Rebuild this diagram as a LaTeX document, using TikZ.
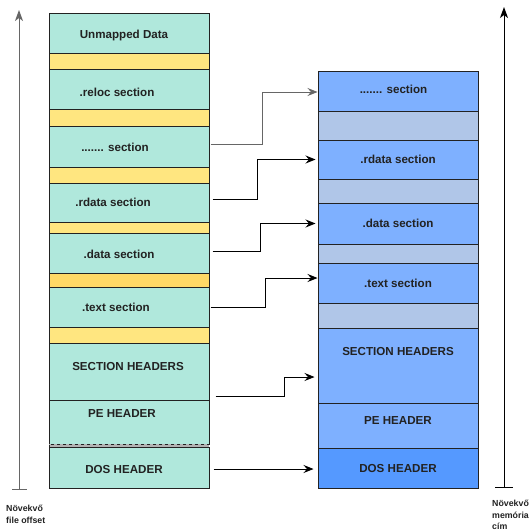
\documentclass[tikz,border=0pt]{standalone}
\usepackage{fontspec}
\setmainfont{Liberation Sans}
\usetikzlibrary{arrows.meta, positioning}
\definecolor{file-sec}{HTML}{B0E8DC}
\definecolor{file-pad}{HTML}{FFE680}
\definecolor{file-pad2}{HTML}{FFD966}
\definecolor{mem-sec}{HTML}{7EB0FF}
\definecolor{mem-pad}{HTML}{B0C6E8}
\definecolor{mem-dos}{HTML}{5599FF}
\definecolor{edge}{HTML}{222222}
\definecolor{axis-gray}{HTML}{666666}
\tikzset{
  blk/.style={
    draw=edge, line width=1pt, minimum width=160pt, inner sep=0pt
  },
  fsec/.style={blk, fill=file-sec},
  fpad/.style={blk, fill=file-pad},
  msec/.style={blk, fill=mem-sec},
  mpad/.style={blk, fill=mem-pad},
  txt/.style={font=\fontsize{11.6}{13}\selectfont\bfseries, text=edge, inner sep=0pt},
  link/.style={line width=0.9pt, -{Stealth[length=10pt, width=8pt, inset=3.5pt]}},
  axis/.style={line width=1pt, -{Stealth[length=11pt, width=8pt, inset=3pt]}},
  axlbl/.style={font=\fontsize{8.8}{11.5}\selectfont\bfseries, text=edge,
    align=left, anchor=north west, inner sep=0pt}
}

\begin{document}
\begin{tikzpicture}[x=1pt, y=-1pt]
  \useasboundingbox (0,0) rectangle (529,532);

  % ---- File image (on disk) -------------------------------------------------
  \node[fsec, minimum height=40pt, label={[txt, xshift=-5pt, yshift=-2pt]center:Unmapped Data}] (f-unmap) at (129,34) {};
  \node[fpad, minimum height=16pt] (f-pad1) at (129,62) {};
  \node[fsec, minimum height=40pt, label={[txt, xshift=-12pt, yshift=-2.5pt]center:.reloc section}] (f-reloc) at (129,90) {};
  \node[fpad, minimum height=16pt] (f-pad2) at (129,118) {};
  \node[fsec, minimum height=41pt, label={[txt, xshift=-14pt, yshift=-1pt]center:....... section}] (f-dots) at (129,146.5) {};
  \node[fpad, minimum height=16pt] (f-pad3) at (129,175) {};
  \node[fsec, minimum height=39pt, label={[txt, xshift=-16pt]center:.rdata section}] (f-rdata) at (129,202.5) {};
  \node[fpad, minimum height=11pt] (f-pad4) at (129,227.5) {};
  \node[fsec, minimum height=40pt, label={[txt, xshift=-10pt, yshift=-1pt]center:.data section}] (f-data) at (129,253) {};
  \node[fpad, fill=file-pad2, minimum height=14pt] (f-pad5) at (129,280) {};
  \node[fsec, minimum height=40pt, label={[txt, xshift=-13pt, yshift=-0.5pt]center:.text section}] (f-text) at (129,307) {};
  \node[fpad, minimum height=16pt] (f-pad6) at (129,335) {};
  \node[fsec, minimum height=57pt, label={[txt, xshift=-1pt, yshift=5pt]center:SECTION HEADERS}] (f-shdr) at (129,371.5) {};
  \node[fsec, minimum height=44pt, label={[txt, xshift=-7pt, yshift=8pt]center:PE HEADER}] (f-pe) at (129,422) {};
  \node[blk, fill=black!30, dashed, minimum height=3pt] (f-gap) at (129,445.5) {};
  \node[fsec, minimum height=41pt, label={[txt, xshift=-5pt, yshift=-2pt]center:DOS HEADER}] (f-dos) at (129,467.5) {};

  % ---- Memory image (mapped) ------------------------------------------------
  \node[msec, minimum height=40pt, label={[txt, xshift=-4.5pt, yshift=3pt]center:....... section}] (m-dots) at (398,92) {};
  \node[mpad, minimum height=28pt] (m-pad1) at (398,126) {};
  \node[msec, minimum height=39pt, label={[txt]center:.rdata section}] (m-rdata) at (398,159.5) {};
  \node[mpad, minimum height=24pt] (m-pad2) at (398,191) {};
  \node[msec, minimum height=41pt, label={[txt]center:.data section}] (m-data) at (398,223.5) {};
  \node[mpad, minimum height=19pt] (m-pad3) at (398,253.5) {};
  \node[msec, minimum height=40pt, label={[txt]center:.text section}] (m-text) at (398,283) {};
  \node[mpad, minimum height=25pt] (m-pad4) at (398,315.5) {};
  \node[msec, minimum height=75pt, label={[txt, yshift=13.5pt]center:SECTION HEADERS}] (m-shdr) at (398,365.5) {};
  \node[msec, minimum height=45pt, label={[txt, yshift=4.5pt]center:PE HEADER}] (m-pe) at (398,425.5) {};
  \node[blk, fill=mem-dos, minimum height=40pt, label={[txt, yshift=-1pt]center:DOS HEADER}] (m-dos) at (398,468) {};

  % ---- Mapping arrows -------------------------------------------------------
  \draw[link, draw=axis-gray, shorten <=1pt] ([yshift=2.5pt]f-dots.east) -- ++(53,0) |- (m-dots.west);
  \draw[link, shorten <=3pt, shorten >=2pt] ([yshift=3.5pt]f-rdata.east) -- ++(48,0) |- (m-rdata.west);
  \draw[link, shorten <=3pt, shorten >=2pt] ([yshift=2pt]f-data.east) -- ++(51,0) |- (m-data.west);
  \draw[link, shorten <=1pt] (f-text.east) -- ++(56,0) |- ([yshift=5pt]m-text.west);
  \draw[link, shorten <=6pt, shorten >=3pt] ([yshift=-24.5pt]f-shdr.east) -- ++(75,0) |- ([yshift=-11.5pt]m-shdr.west);
  \draw[link, shorten <=4pt, shorten >=4pt] ([yshift=-1.5pt]f-dos.east) -- ([yshift=-1pt]m-dos.west);

  % ---- Growth axes ----------------------------------------------------------
  \coordinate (fa-lo) at (19,489);
  \coordinate (fa-hi) at (19,10);
  \draw[axis, draw=axis-gray] (fa-lo) -- (fa-hi);
  \draw[line width=1pt, draw=axis-gray] ([xshift=-7pt]fa-lo) -- ([xshift=8pt]fa-lo);
  \node[axlbl] (fa-lbl) at (6,505) {Növekvő\\file offset};

  \coordinate (ma-lo) at (504,487);
  \coordinate (ma-hi) at (504,7);
  \draw[axis] (ma-lo) -- (ma-hi);
  \draw[line width=1pt] ([xshift=-9pt]ma-lo) -- ([xshift=9pt]ma-lo);
  \node[axlbl] (ma-lbl) at (492,500) {Növekvő\\memória\\cím};

\end{tikzpicture}
\end{document}
